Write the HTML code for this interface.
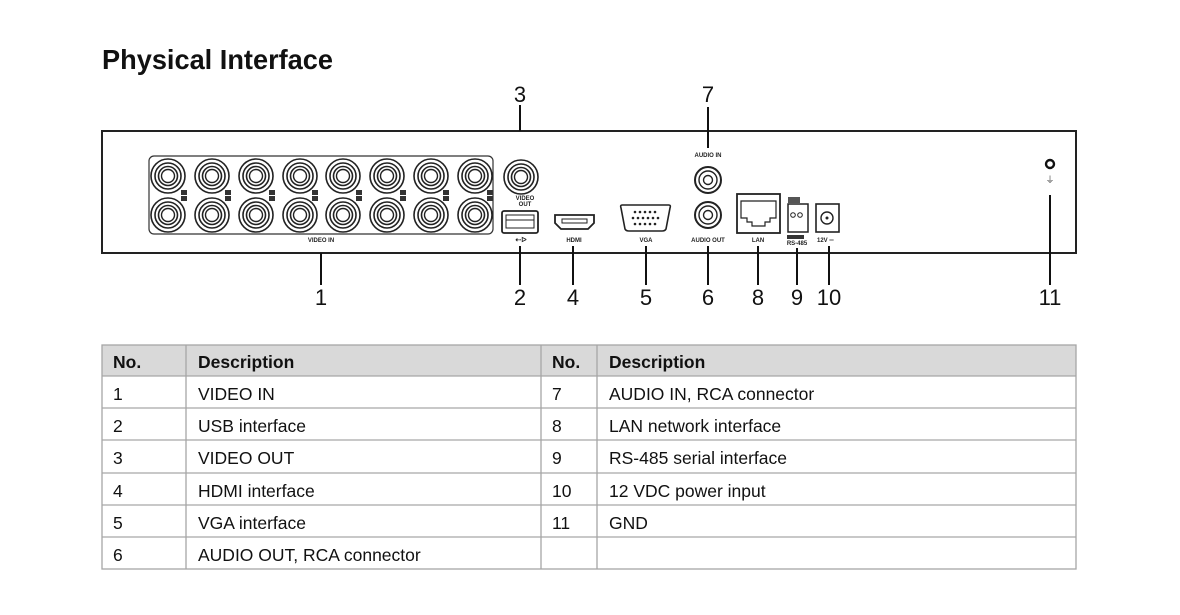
<!DOCTYPE html>
<html><head><meta charset="utf-8"><style>
body{margin:0;background:#fff;width:1180px;height:615px;overflow:hidden;font-family:"Liberation Sans",sans-serif}
</style></head><body>
<svg width="1180" height="615" xmlns="http://www.w3.org/2000/svg" style="position:absolute;left:0;top:0">
<defs>
<g id="bnc"><circle r="17" fill="#fff" stroke="#222" stroke-width="1.6"/><circle r="13" fill="none" stroke="#222" stroke-width="1.6"/><circle r="9.5" fill="none" stroke="#222" stroke-width="1.6"/><circle r="6.5" fill="none" stroke="#222" stroke-width="1.4"/></g>
</defs>
<text x="102" y="69" font-size="28" font-weight="bold" fill="#111" textLength="231" lengthAdjust="spacingAndGlyphs">Physical Interface</text>
<!-- device -->
<rect x="102" y="131" width="974" height="122" fill="none" stroke="#222" stroke-width="2"/>
<rect x="149" y="156" width="344" height="78" rx="5" fill="none" stroke="#333" stroke-width="1.2"/>
<g>
<use href="#bnc" x="168" y="176"/><use href="#bnc" x="212" y="176"/><use href="#bnc" x="256" y="176"/><use href="#bnc" x="300" y="176"/><use href="#bnc" x="343" y="176"/><use href="#bnc" x="387" y="176"/><use href="#bnc" x="431" y="176"/><use href="#bnc" x="475" y="176"/>
<use href="#bnc" x="168" y="215"/><use href="#bnc" x="212" y="215"/><use href="#bnc" x="256" y="215"/><use href="#bnc" x="300" y="215"/><use href="#bnc" x="343" y="215"/><use href="#bnc" x="387" y="215"/><use href="#bnc" x="431" y="215"/><use href="#bnc" x="475" y="215"/>
</g>
<g fill="#333">
<rect x="181" y="190" width="6" height="5"/><rect x="181" y="196" width="6" height="5"/>
<rect x="225" y="190" width="6" height="5"/><rect x="225" y="196" width="6" height="5"/>
<rect x="269" y="190" width="6" height="5"/><rect x="269" y="196" width="6" height="5"/>
<rect x="312" y="190" width="6" height="5"/><rect x="312" y="196" width="6" height="5"/>
<rect x="356" y="190" width="6" height="5"/><rect x="356" y="196" width="6" height="5"/>
<rect x="400" y="190" width="6" height="5"/><rect x="400" y="196" width="6" height="5"/>
<rect x="443" y="190" width="6" height="5"/><rect x="443" y="196" width="6" height="5"/>
<rect x="487" y="190" width="6" height="5"/><rect x="487" y="196" width="6" height="5"/>
</g>
<text x="321" y="242" font-size="6" font-weight="bold" text-anchor="middle" fill="#222">VIDEO IN</text>
<use href="#bnc" x="521" y="177"/>
<text x="525" y="200" font-size="6" font-weight="bold" text-anchor="middle" fill="#222">VIDEO</text>
<text x="525" y="206" font-size="6" font-weight="bold" text-anchor="middle" fill="#222">OUT</text>
<!-- USB -->
<rect x="502" y="211" width="36" height="22" rx="2" fill="none" stroke="#222" stroke-width="1.8"/>
<rect x="506" y="215" width="28" height="13" fill="none" stroke="#222" stroke-width="1"/>
<line x1="506" y1="220" x2="534" y2="220" stroke="#222"/>
<text x="521" y="242" font-size="7" font-weight="bold" text-anchor="middle" fill="#222">⇠ᐅ</text>
<!-- HDMI -->
<path d="M555 215 H594 V223 L588 229 H561 L555 223 Z" fill="none" stroke="#222" stroke-width="1.8"/>
<rect x="562" y="219" width="25" height="4" fill="none" stroke="#222" stroke-width="1"/>
<text x="574" y="242" font-size="6" font-weight="bold" text-anchor="middle" fill="#222">HDMI</text>
<!-- VGA -->
<path d="M622 205 H669 Q671 205 670 208 L666 229 Q665 231 662 231 H629 Q626 231 625 229 L621 208 Q620 205 622 205 Z" fill="none" stroke="#222" stroke-width="1.6"/>
<g fill="#222"><circle cx="635" cy="212" r="1.3"/><circle cx="640" cy="212" r="1.3"/><circle cx="645" cy="212" r="1.3"/><circle cx="650" cy="212" r="1.3"/><circle cx="655" cy="212" r="1.3"/>
<circle cx="633" cy="218" r="1.3"/><circle cx="638" cy="218" r="1.3"/><circle cx="643" cy="218" r="1.3"/><circle cx="648" cy="218" r="1.3"/><circle cx="653" cy="218" r="1.3"/><circle cx="658" cy="218" r="1.3"/>
<circle cx="635" cy="224" r="1.3"/><circle cx="640" cy="224" r="1.3"/><circle cx="645" cy="224" r="1.3"/><circle cx="650" cy="224" r="1.3"/><circle cx="655" cy="224" r="1.3"/></g>
<text x="646" y="242" font-size="6" font-weight="bold" text-anchor="middle" fill="#222">VGA</text>
<!-- audio -->
<text x="708" y="157" font-size="6" font-weight="bold" text-anchor="middle" fill="#222">AUDIO IN</text>
<circle cx="708" cy="180" r="13" fill="none" stroke="#222" stroke-width="2"/><circle cx="708" cy="180" r="9" fill="none" stroke="#222" stroke-width="1.4"/><circle cx="708" cy="180" r="4.5" fill="none" stroke="#222" stroke-width="1.4"/>
<circle cx="708" cy="215" r="13" fill="none" stroke="#222" stroke-width="2"/><circle cx="708" cy="215" r="9" fill="none" stroke="#222" stroke-width="1.4"/><circle cx="708" cy="215" r="4.5" fill="none" stroke="#222" stroke-width="1.4"/>
<text x="708" y="242" font-size="6" font-weight="bold" text-anchor="middle" fill="#222">AUDIO OUT</text>
<!-- LAN -->
<rect x="737" y="194" width="43" height="39" fill="none" stroke="#222" stroke-width="1.8"/>
<path d="M741 201 H776 V218 H770 V222 H765 V226 H752 V222 H747 V218 H741 Z" fill="none" stroke="#222" stroke-width="1.2"/>
<text x="758" y="242" font-size="6" font-weight="bold" text-anchor="middle" fill="#222">LAN</text>
<!-- RS485 -->
<rect x="788" y="197" width="12" height="6" fill="#555"/>
<rect x="788" y="204" width="20" height="28" fill="none" stroke="#222" stroke-width="1.5"/>
<circle cx="793" cy="215" r="2.3" fill="none" stroke="#222"/><circle cx="800" cy="215" r="2.3" fill="none" stroke="#222"/>
<rect x="787" y="235" width="17" height="4" fill="#333"/>
<text x="797" y="245" font-size="6" font-weight="bold" text-anchor="middle" fill="#222">RS-485</text>
<!-- 12V -->
<rect x="816" y="204" width="23" height="28" fill="none" stroke="#222" stroke-width="1.6"/>
<circle cx="827" cy="218" r="6" fill="none" stroke="#222" stroke-width="1.4"/><circle cx="827" cy="218" r="1.5" fill="#222"/>
<text x="817" y="242" font-size="6" font-weight="bold" fill="#222">12V ═</text>
<!-- GND -->
<circle cx="1050" cy="164" r="4" fill="none" stroke="#111" stroke-width="2.4"/>
<text x="1050" y="183" font-size="9" text-anchor="middle" fill="#444">⏚</text>
<!-- leaders -->
<g stroke="#111" stroke-width="2">
<line x1="321" y1="253" x2="321" y2="285"/>
<line x1="520" y1="105" x2="520" y2="131"/>
<line x1="520" y1="246" x2="520" y2="285"/>
<line x1="573" y1="246" x2="573" y2="285"/>
<line x1="646" y1="246" x2="646" y2="285"/>
<line x1="708" y1="107" x2="708" y2="148"/>
<line x1="708" y1="246" x2="708" y2="285"/>
<line x1="758" y1="246" x2="758" y2="285"/>
<line x1="797" y1="248" x2="797" y2="285"/>
<line x1="829" y1="246" x2="829" y2="285"/>
<line x1="1050" y1="195" x2="1050" y2="285"/>
</g>
<g font-size="22" fill="#111" text-anchor="middle">
<text x="520" y="102">3</text><text x="708" y="102">7</text>
<text x="321" y="305">1</text><text x="520" y="305">2</text><text x="573" y="305">4</text><text x="646" y="305">5</text><text x="708" y="305">6</text><text x="758" y="305">8</text><text x="797" y="305">9</text><text x="829" y="305">10</text><text x="1050" y="305">11</text>
</g>
<!-- table -->
<rect x="102" y="345" width="974" height="31" fill="#d9d9d9"/>
<g stroke="#a6a6a6" stroke-width="1.3" fill="none">
<rect x="102" y="345" width="974" height="224"/>
<line x1="102" y1="376" x2="1076" y2="376"/><line x1="102" y1="408" x2="1076" y2="408"/><line x1="102" y1="440" x2="1076" y2="440"/><line x1="102" y1="473" x2="1076" y2="473"/><line x1="102" y1="505" x2="1076" y2="505"/><line x1="102" y1="537" x2="1076" y2="537"/>
<line x1="186" y1="345" x2="186" y2="569"/><line x1="541" y1="345" x2="541" y2="569"/><line x1="597" y1="345" x2="597" y2="569"/>
</g>
<g font-size="17.5" fill="#111">
<text x="113" y="368" font-weight="bold">No.</text><text x="198" y="368" font-weight="bold">Description</text><text x="552" y="368" font-weight="bold">No.</text><text x="609" y="368" font-weight="bold">Description</text>
<text x="113" y="400">1</text><text x="198" y="400">VIDEO IN</text><text x="552" y="400">7</text><text x="609" y="400">AUDIO IN, RCA connector</text>
<text x="113" y="432">2</text><text x="198" y="432">USB interface</text><text x="552" y="432">8</text><text x="609" y="432">LAN network interface</text>
<text x="113" y="464">3</text><text x="198" y="464">VIDEO OUT</text><text x="552" y="464">9</text><text x="609" y="464">RS-485 serial interface</text>
<text x="113" y="497">4</text><text x="198" y="497">HDMI interface</text><text x="552" y="497">10</text><text x="609" y="497">12 VDC power input</text>
<text x="113" y="529">5</text><text x="198" y="529">VGA interface</text><text x="552" y="529">11</text><text x="609" y="529">GND</text>
<text x="113" y="561">6</text><text x="198" y="561">AUDIO OUT, RCA connector</text>
</g>
</svg>
</body></html>
